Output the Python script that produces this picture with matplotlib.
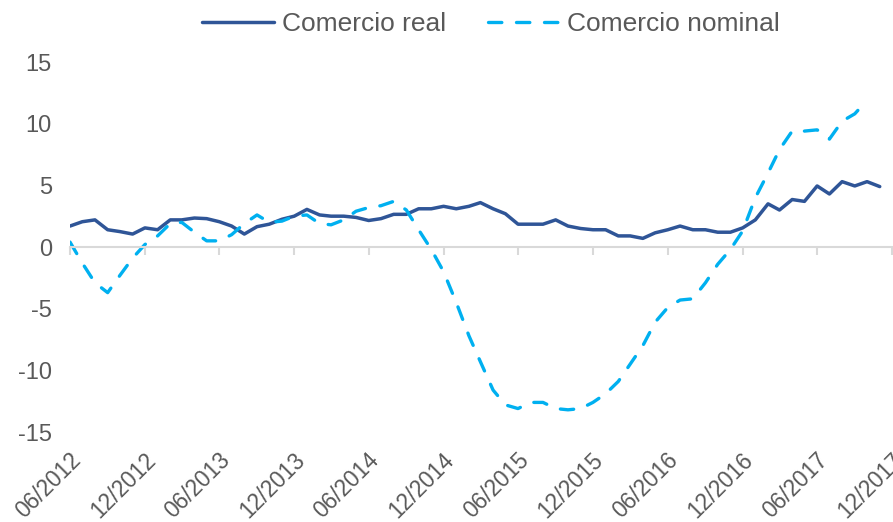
import matplotlib
matplotlib.use("Agg")
import matplotlib.pyplot as plt
import matplotlib.transforms as mtrans
import numpy as np
import pandas as pd

plt.rcParams['font.family'] = ['Liberation Sans', 'DejaVu Sans']
plt.rcParams['axes.unicode_minus'] = False

# monthly series, 06/2012 onwards
real = [1.7, 2.05, 2.2, 1.4, 1.25, 1.05, 1.55, 1.4, 2.2, 2.2, 2.35, 2.3,
        2.05, 1.7, 1.05, 1.65, 1.85, 2.25, 2.5, 3.05, 2.6, 2.5, 2.5, 2.4,
        2.15, 2.3, 2.65, 2.65, 3.1, 3.1, 3.3, 3.1, 3.3, 3.6, 3.1, 2.7,
        1.85, 1.85, 1.85, 2.2, 1.7, 1.5, 1.4, 1.4, 0.9, 0.9, 0.7, 1.15,
        1.4, 1.7, 1.4, 1.4, 1.2, 1.2, 1.55, 2.2, 3.5, 3.0, 3.85, 3.7,
        4.95, 4.3, 5.3, 4.95, 5.3, 4.9]
nominal = [0.4, -1.3, -2.9, -3.7, -2.3, -0.9, 0.2, 0.9, 1.9, 2.0, 1.2, 0.5,
           0.5, 1.0, 1.9, 2.6, 2.0, 2.1, 2.5, 2.6, 1.9, 1.8, 2.2, 2.9,
           3.2, 3.35, 3.7, 3.0, 1.4, -0.2, -2.0, -4.5, -7.2, -9.3, -11.6, -12.8,
           -13.1, -12.6, -12.6, -13.1, -13.2, -13.1, -12.6, -11.9, -10.9, -9.5, -8.0, -6.1,
           -4.9, -4.3, -4.2, -2.9, -1.4, -0.2, 1.3, 4.0, 6.0, 7.9, 9.4, 9.4,
           9.5, 8.75, 10.2, 10.8, 11.9]

dates_real = pd.date_range('2012-06-01', periods=len(real), freq='MS')
dates_nom = pd.date_range('2012-06-01', periods=len(nominal), freq='MS')
tick_dates = pd.date_range('2012-06-01', '2017-12-01', freq='6MS')
tick_labels = [d.strftime('%m/%Y') for d in tick_dates]

txt = '#595959'
fig = plt.figure(figsize=(8.93, 5.22), dpi=100)
ax = fig.add_axes([0.0784, 0.1724, 0.9205, 0.7088])

ax.plot(dates_real, real, color='#2F5597', lw=2.5, label='Comercio real',
        solid_capstyle='round', solid_joinstyle='round')
ax.plot(dates_nom, nominal, color='#00B0F0', lw=2.4, label='Comercio nominal',
        dashes=(4.0, 4.4), dash_capstyle='round')

ax.set_ylim(-15, 15)
ax.set_yticks(range(-15, 16, 5))
ax.set_xlim(tick_dates[0], tick_dates[-1])

for s in ['top', 'right', 'left']:
    ax.spines[s].set_visible(False)
ax.spines['bottom'].set_position(('data', 0))
ax.spines['bottom'].set_color('#d9d9d9')
ax.spines['bottom'].set_linewidth(1.5)
ax.set_xticks(tick_dates)
ax.tick_params(axis='x', length=6, width=1.5, color='#d9d9d9', labelbottom=False)
ax.tick_params(axis='y', length=0, pad=13, labelsize=17, labelcolor=txt)

sec = ax.secondary_xaxis(0.0)
sec.spines['bottom'].set_visible(False)
sec.set_xticks(tick_dates, labels=tick_labels)
sec.tick_params(length=0, pad=18, labelsize=16.3, labelcolor=txt)
shift = mtrans.ScaledTranslation(0.07, 0, fig.dpi_scale_trans)
for lbl in sec.get_xticklabels():
    lbl.set_rotation(45)
    lbl.set_ha('right')
    lbl.set_va('center')
    lbl.set_rotation_mode('anchor')
    lbl.set_transform(lbl.get_transform() + shift)

leg = fig.legend(loc='center', bbox_to_anchor=(0.55, 0.954), ncol=2, frameon=False,
                 fontsize=19, handlelength=2.7, handletextpad=0.3, columnspacing=1.6,
                 labelcolor=txt)

fig.savefig('out.png', dpi=100)
